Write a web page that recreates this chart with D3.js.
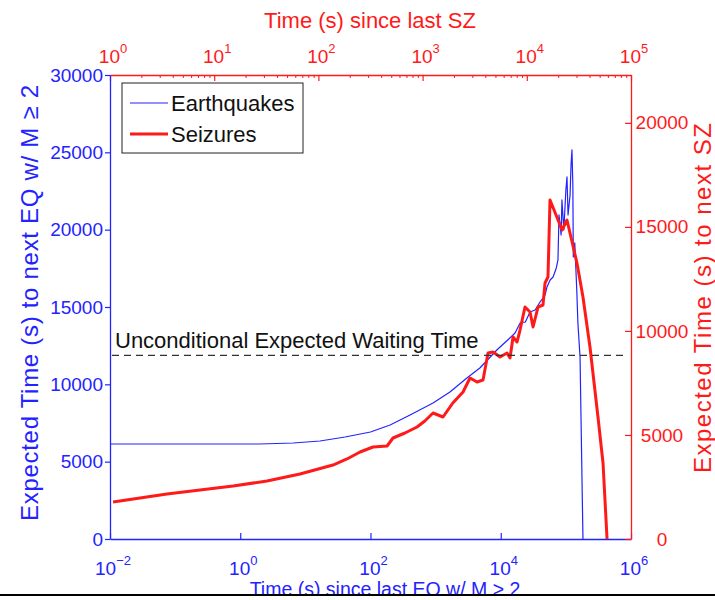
<!DOCTYPE html>
<html>
<head>
<meta charset="utf-8">
<script src="https://cdn.jsdelivr.net/npm/d3@7"></script>
<style>
  body { margin: 0; background: #fff; }
  text { font-family: "Liberation Sans", Arial, Helvetica, sans-serif; }
</style>
</head>
<body>
<svg id="chart" width="715" height="600"></svg>
<script>
// Earthquakes: time since last EQ (s) vs expected time to next EQ (s)
const eqTime = [0.01, 2, 6.5, 16.8, 40.6, 100, 200, 405, 913, 1660, 3020, 4780, 8710, 13800, 16600, 19800,
  23900, 28100, 33700, 40100, 48000, 51300, 57300, 63600, 71300, 75600, 78400, 84500, 87000, 93000,
  100000, 104000, 108000, 116000, 120000, 124000, 128000, 130000, 137000, 147000, 153000, 165000,
  183000];
const eqWait = [6143, 6143, 6207, 6337, 6596, 6919, 7371, 8018, 8794, 9505, 10410, 11057, 12221, 12997, 13320, 13967,
  14031, 14678, 14807, 15324, 15777, 16294, 16747, 16941, 17523, 18040, 20950, 19657, 21920, 19980,
  22567, 23408, 20950, 22243, 24183, 25153, 22890, 18234, 19140, 16100, 13967, 11768,
  0];

// Seizures: time since last SZ (s) vs expected time to next SZ (s)
const szTime = [1.07, 1.94, 3.52, 7.3, 15.2, 32.1, 66.6, 138, 188, 251, 334, 456, 520, 677, 884, 1050, 1259,
  1570, 1950, 2443, 2851, 3326, 3800, 4245, 4742, 5536, 6458, 6900, 7380, 8060, 8610, 9610, 10740,
  11480, 12820, 14300, 14960, 15970, 16700, 21800, 24300, 30300, 34600, 40400, 48200, 53900, 58900];
const szWait = [1778, 1970, 2163, 2355, 2547, 2787, 3124, 3556, 3845, 4181, 4422, 4470, 4854, 5094, 5383, 5671, 6056,
  5863, 6536, 7065, 7738, 7545, 7642, 8939, 8987, 8747, 8939, 8699, 9708, 9468, 10044, 11150, 10910,
  10189, 11150, 11246, 12303, 12592, 16292, 14850, 15330, 13265, 11630, 9228, 5863, 3653, 0];

// Unconditional expected waiting time, in EQ axis units
const unconditionalWait = 11870;

// Tick values
const bottomTicks = [-2, 0, 2, 4, 6];          // exponents of 10
const topTicks = [0, 1, 2, 3, 4, 5];           // exponents of 10
const leftTicks = [0, 5000, 10000, 15000, 20000, 25000, 30000];
const rightTicks = [0, 5000, 10000, 15000, 20000];

const BLUE = "#2323ff";
const RED = "#ff1a1a";
const plot = { left: 110, right: 631, top: 75, bottom: 539 };

const svg = d3.select("#chart");

const xBot = d3.scaleLog().domain([1e-2, 1e6]).range([plot.left, plot.right]);
const xTop = d3.scaleLog().domain([1, 1e5]).range([plot.left, plot.right]);
const yL = d3.scaleLinear().domain([0, 30000]).range([plot.bottom, plot.top]);
const yR = d3.scaleLinear().domain([0, 22300]).range([plot.bottom, plot.top]);

function styleAxis(g, color) {
  g.select(".domain").attr("stroke", color).attr("stroke-width", 1.3);
  g.selectAll(".tick line").attr("stroke", color).attr("stroke-width", 1.2);
}

// power-of-ten label: "10" with a raised exponent
function powerLabel(g, x, y, exp, color) {
  const t = g.append("text").attr("x", x).attr("y", y)
    .attr("text-anchor", "middle").attr("fill", color).attr("font-size", 19);
  t.append("tspan").text("10");
  t.append("tspan").attr("dy", -10).attr("font-size", 13).text(String(exp).replace("-", "\u2212"));
}

// ---- bottom axis (EQ time, log) ----
const gB = svg.append("g").attr("transform", `translate(0,${plot.bottom})`)
  .call(d3.axisBottom(xBot).tickValues(bottomTicks.map(e => Math.pow(10, e)))
    .tickSizeInner(-6).tickSizeOuter(0).tickFormat(""));
styleAxis(gB, BLUE);
bottomTicks.forEach(e => powerLabel(svg, xBot(Math.pow(10, e)) + 3, 575, e, BLUE));

// ---- top axis (SZ time, log) ----
const topMinor = [];
for (let d = 0; d < 5; d++) for (let k = 2; k <= 9; k++) topMinor.push(k * Math.pow(10, d));
const gTm = svg.append("g").attr("transform", `translate(0,${plot.top})`)
  .call(d3.axisTop(xTop).tickValues(topMinor).tickSizeInner(-3).tickSizeOuter(0).tickFormat(""));
gTm.select(".domain").remove();
gTm.selectAll(".tick line").attr("stroke", RED).attr("stroke-width", 1);
const gT = svg.append("g").attr("transform", `translate(0,${plot.top})`)
  .call(d3.axisTop(xTop).tickValues(topTicks.map(e => Math.pow(10, e)))
    .tickSizeInner(-6).tickSizeOuter(0).tickFormat(""));
styleAxis(gT, RED);
topTicks.forEach(e => powerLabel(svg, xTop(Math.pow(10, e)) + 3, 63, e, RED));

// ---- left axis (EQ expected time) ----
const gL = svg.append("g").attr("transform", `translate(${plot.left},0)`)
  .call(d3.axisLeft(yL).tickValues(leftTicks).tickSizeInner(5).tickSizeOuter(0).tickPadding(2)
    .tickFormat(d3.format("d")));
styleAxis(gL, BLUE);
gL.selectAll(".tick text").attr("fill", BLUE).attr("font-size", 19)
  .attr("font-family", "Liberation Sans, Arial, sans-serif");

// ---- right axis (SZ expected time) ----
const gR = svg.append("g").attr("transform", `translate(${plot.right},0)`)
  .call(d3.axisRight(yR).tickValues(rightTicks).tickSizeInner(-6).tickSizeOuter(0)
    .tickFormat(d3.format("d")));
styleAxis(gR, RED);
gR.selectAll(".tick text").attr("fill", RED).attr("font-size", 19)
  .attr("font-family", "Liberation Sans, Arial, sans-serif")
  .attr("x", 31).attr("text-anchor", "middle");

// ---- axis titles ----
svg.append("text").attr("x", 370).attr("y", 28).attr("text-anchor", "middle")
  .attr("fill", RED).attr("font-size", 22).text("Time (s) since last SZ");
svg.append("text").attr("x", 385).attr("y", 596).attr("text-anchor", "middle")
  .attr("fill", BLUE).attr("font-size", 19.5).text("Time (s) since last EQ w/ M > 2");
svg.append("text").attr("transform", "translate(38,303) rotate(-90)").attr("text-anchor", "middle")
  .attr("fill", BLUE).attr("font-size", 24).attr("textLength", 436).attr("lengthAdjust", "spacing")
  .text("Expected Time (s) to next EQ w/ M \u2265 2");
svg.append("text").attr("transform", "translate(711,298) rotate(-90)").attr("text-anchor", "middle")
  .attr("fill", RED).attr("font-size", 24).attr("textLength", 350).attr("lengthAdjust", "spacing")
  .text("Expected Time (s) to next SZ");

// ---- series ----
const eqLine = d3.line().x((d, i) => xBot(eqTime[i])).y((d, i) => yL(eqWait[i]));
svg.append("path").datum(eqWait).attr("d", eqLine)
  .attr("fill", "none").attr("stroke", BLUE).attr("stroke-width", 1.2).attr("stroke-linejoin", "round");

const szLine = d3.line().x((d, i) => xTop(szTime[i])).y((d, i) => yR(szWait[i]));
svg.append("path").datum(szWait).attr("d", szLine)
  .attr("fill", "none").attr("stroke", RED).attr("stroke-width", 3).attr("stroke-linejoin", "round");

// ---- unconditional expected waiting time ----
svg.append("line")
  .attr("x1", plot.left + 2).attr("x2", plot.right - 7)
  .attr("y1", yL(unconditionalWait)).attr("y2", yL(unconditionalWait))
  .attr("stroke", "#333").attr("stroke-width", 1.3).attr("stroke-dasharray", "7,5");
svg.append("text").attr("x", 115).attr("y", yL(unconditionalWait) - 7)
  .attr("fill", "#111").attr("font-size", 22).text("Unconditional Expected Waiting Time");

// ---- legend ----
const lg = svg.append("g");
lg.append("rect").attr("x", 122).attr("y", 83).attr("width", 181).attr("height", 70)
  .attr("fill", "#fff").attr("stroke", "#222").attr("stroke-width", 1);
const legendItems = [
  { label: "Earthquakes", color: BLUE, width: 1.2, y: 103 },
  { label: "Seizures", color: RED, width: 3, y: 134 }
];
legendItems.forEach(it => {
  lg.append("line").attr("x1", 130).attr("x2", 168).attr("y1", it.y).attr("y2", it.y)
    .attr("stroke", it.color).attr("stroke-width", it.width);
  lg.append("text").attr("x", 171).attr("y", it.y + 8).attr("font-size", 22)
    .attr("fill", "#111").text(it.label);
});

// ---- bottom frame edge ----
svg.append("rect").attr("x", 0).attr("y", 596).attr("width", 715).attr("height", 4).attr("fill", "#fff");
svg.append("rect").attr("x", 0).attr("y", 594).attr("width", 715).attr("height", 2).attr("fill", "#000");
</script>
</body>
</html>
